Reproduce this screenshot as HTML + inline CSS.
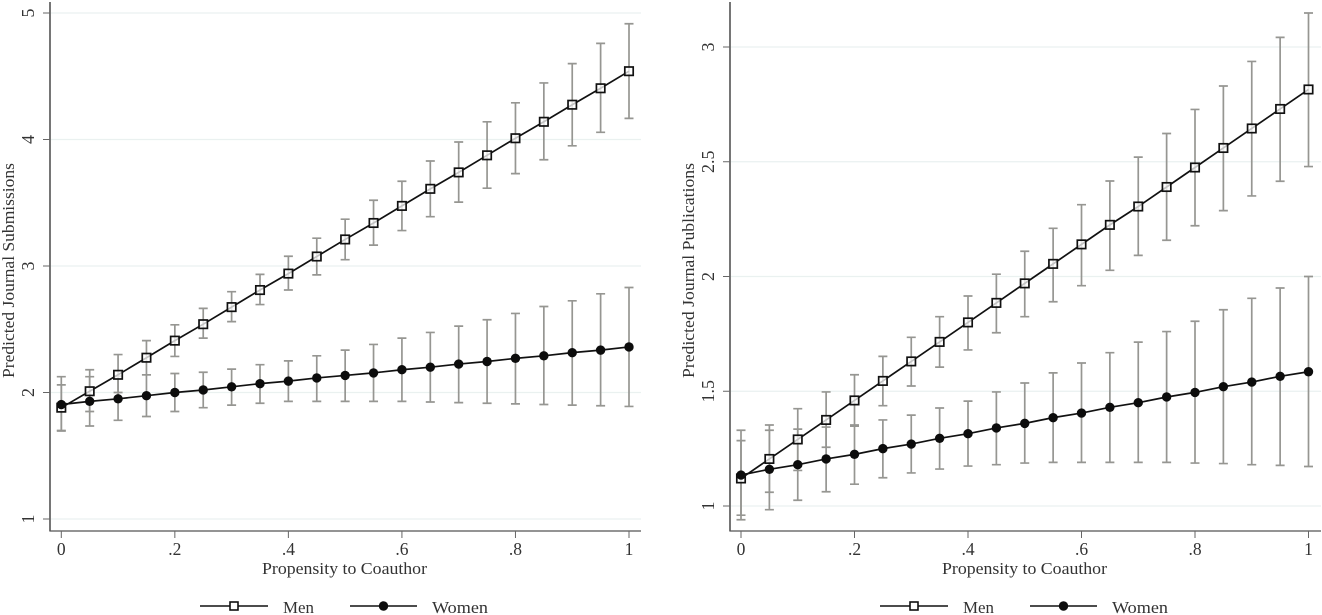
<!DOCTYPE html>
<html lang="en">
<head>
<meta charset="utf-8">
<title>Predicted Journal Submissions and Publications</title>
<style>
html,body{margin:0;padding:0;background:#fff;width:1322px;height:615px;overflow:hidden}
svg{display:block}
text{font-family:"Liberation Serif",serif;fill:#333}
</style>
</head>
<body>
<svg id="figure" width="1322" height="615" viewBox="0 0 1322 615" xmlns="http://www.w3.org/2000/svg"></svg>
<script>
const propensity = [0,.05,.1,.15,.2,.25,.3,.35,.4,.45,.5,.55,.6,.65,.7,.75,.8,.85,.9,.95,1];
const xTickValues = [0,.2,.4,.6,.8,1];
const xTickLabels = ['0','.2','.4','.6','.8','1'];

const subsTicks = [1,2,3,4,5];
const subsTickLabels = ['1','2','3','4','5'];
const subsMen = [1.88,2.01,2.14,2.275,2.41,2.54,2.675,2.81,2.94,3.075,3.21,3.34,3.475,3.61,3.74,3.875,4.01,4.14,4.275,4.405,4.54];
const subsMenUpper = [2.06,2.18,2.3,2.41,2.535,2.665,2.797,2.934,3.077,3.22,3.37,3.52,3.67,3.83,3.98,4.14,4.29,4.447,4.6,4.76,4.915];
const subsMenLower = [1.695,1.85,2.0,2.14,2.285,2.43,2.56,2.695,2.81,2.93,3.05,3.165,3.28,3.39,3.505,3.615,3.73,3.84,3.95,4.057,4.167];
const subsWomen = [1.905,1.93,1.95,1.975,2.0,2.02,2.045,2.07,2.09,2.115,2.135,2.155,2.18,2.2,2.225,2.245,2.27,2.29,2.315,2.335,2.36];
const subsWomenUpper = [2.125,2.125,2.13,2.14,2.15,2.16,2.185,2.22,2.25,2.29,2.335,2.38,2.43,2.475,2.525,2.575,2.625,2.68,2.725,2.78,2.83];
const subsWomenLower = [1.7,1.735,1.78,1.81,1.85,1.88,1.9,1.915,1.93,1.93,1.93,1.93,1.93,1.925,1.92,1.915,1.91,1.905,1.9,1.895,1.89];

const pubsTicks = [1,1.5,2,2.5,3];
const pubsTickLabels = ['1','1.5','2','2.5','3'];
const pubsMen = [1.12,1.205,1.29,1.375,1.46,1.545,1.63,1.715,1.8,1.885,1.97,2.055,2.14,2.225,2.305,2.39,2.475,2.56,2.645,2.73,2.815];
const pubsMenUpper = [1.285,1.33,1.424,1.497,1.572,1.652,1.735,1.825,1.915,2.01,2.11,2.21,2.313,2.416,2.52,2.623,2.728,2.83,2.937,3.042,3.148];
const pubsMenLower = [.96,1.06,1.155,1.256,1.353,1.437,1.523,1.605,1.68,1.755,1.825,1.89,1.96,2.027,2.092,2.158,2.221,2.287,2.351,2.415,2.479];
const pubsWomen = [1.135,1.16,1.18,1.205,1.225,1.25,1.27,1.295,1.315,1.34,1.36,1.385,1.405,1.43,1.45,1.475,1.495,1.52,1.54,1.565,1.585];
const pubsWomenUpper = [1.33,1.353,1.335,1.344,1.348,1.375,1.396,1.427,1.457,1.497,1.536,1.58,1.623,1.668,1.714,1.76,1.805,1.855,1.905,1.95,2.0];
const pubsWomenLower = [.94,.984,1.025,1.062,1.095,1.123,1.144,1.161,1.174,1.18,1.187,1.19,1.19,1.19,1.19,1.19,1.187,1.185,1.18,1.177,1.172];

const NS = 'http://www.w3.org/2000/svg';
const svg = document.getElementById('figure');

function mk(parent, tag, attrs, txt){
  const e = document.createElementNS(NS, tag);
  for (const k in attrs) e.setAttribute(k, attrs[k]);
  if (txt !== undefined) e.textContent = txt;
  parent.appendChild(e);
  return e;
}

function drawBars(g, xs, ys, up, lo, label){
  xs.forEach((v,i)=>{
    const bar = mk(g,'path',{
      d:`M${xs[i]-4.5} ${ys(up[i])}H${xs[i]+4.5}M${xs[i]} ${ys(up[i])}V${ys(lo[i])}M${xs[i]-4.5} ${ys(lo[i])}H${xs[i]+4.5}`,
      fill:'none',stroke:'#969692','stroke-width':1.7});
    
    
  });
}

function drawPanel(o){
  const g = mk(svg,'g',{});
  
  

  const xp = v => o.x0 + (o.x1 - o.x0) * v;
  const yp = v => o.yA + (o.yB - o.yA) * (v - o.vA) / (o.vB - o.vA);
  const xs = propensity.map(xp);

  o.ticks.forEach((t,i)=>{
    const grid = mk(g,'line',{x1:o.left+1,x2:o.left+591,y1:yp(t),y2:yp(t),stroke:'#eaf1f0','stroke-width':1.2});
    
    
    const tick = mk(g,'line',{x1:o.left-7,x2:o.left,y1:yp(t),y2:yp(t),stroke:'#666','stroke-width':1});
    
    
    const lbl = mk(g,'text',{x:o.left-16,y:yp(t),'font-size':18,'text-anchor':'middle',transform:`rotate(-90 ${o.left-16} ${yp(t)})`},o.tickLabels[i]);
    
    
  });

  const yAxis = mk(g,'line',{x1:o.left,x2:o.left,y1:2,y2:531.5,stroke:'#666','stroke-width':1.8});
  
  
  const xAxis = mk(g,'line',{x1:o.left,x2:o.left+591,y1:531,y2:531,stroke:'#555','stroke-width':1.2});
  
  

  xTickValues.forEach((t,i)=>{
    const tick = mk(g,'line',{x1:xp(t),x2:xp(t),y1:531,y2:538,stroke:'#666','stroke-width':1});
    
    
    const lbl = mk(g,'text',{x:xp(t),y:555,'font-size':17.5,'text-anchor':'middle'},xTickLabels[i]);
    
    
  });

  const xTitle = mk(g,'text',{x:o.left+212,y:574,'font-size':16.5,textLength:165,lengthAdjust:'spacingAndGlyphs'},'Propensity to Coauthor');
  
  
  const yTitle = mk(g,'text',{x:0,y:0,'font-size':16.5,textLength:o.titleLen,lengthAdjust:'spacingAndGlyphs',transform:`translate(${o.left-36} 378) rotate(-90)`},o.title);
  
  

  drawBars(g, xs, yp, o.menU, o.menL, 'men');
  drawBars(g, xs, yp, o.womenU, o.womenL, 'women');

  const menLine = mk(g,'polyline',{points:xs.map((x,i)=>x+','+yp(o.men[i])).join(' '),fill:'none',stroke:'#111','stroke-width':1.7});
  
  
  const womenLine = mk(g,'polyline',{points:xs.map((x,i)=>x+','+yp(o.women[i])).join(' '),fill:'none',stroke:'#111','stroke-width':1.7});
  
  

  xs.forEach((x,i)=>{
    const s = mk(g,'rect',{x:x-4.2,y:yp(o.men[i])-4.2,width:8.4,height:8.4,fill:'#fff','fill-opacity':.75,stroke:'#111','stroke-width':1.7});
    
    
  });
  xs.forEach((x,i)=>{
    const c = mk(g,'circle',{cx:x,cy:yp(o.women[i]),r:4.7,fill:'#0c0c0c'});
    
    
  });

  const L = o.left;
  const lg = mk(g,'g',{});
  
  
  const l1 = mk(lg,'line',{x1:L+150,x2:L+218,y1:606,y2:606,stroke:'#111','stroke-width':1.6});
  
  
  const r1 = mk(lg,'rect',{x:L+180,y:602,width:8,height:8,fill:'#fff',stroke:'#111','stroke-width':1.6});
  
  
  const t1 = mk(lg,'text',{x:L+233,y:613,'font-size':16.5,textLength:31,lengthAdjust:'spacingAndGlyphs'},'Men');
  
  
  const l2 = mk(lg,'line',{x1:L+300,x2:L+367,y1:606,y2:606,stroke:'#111','stroke-width':1.6});
  
  
  const c2 = mk(lg,'circle',{cx:L+333.5,cy:606,r:4.7,fill:'#0c0c0c'});
  
  
  const t2 = mk(lg,'text',{x:L+382,y:613,'font-size':16.5,textLength:56,lengthAdjust:'spacingAndGlyphs'},'Women');
  
  
}

drawPanel({name:'submissions-panel',left:50,x0:61.3,x1:629,yA:519,yB:13,vA:1,vB:5,
  ticks:subsTicks,tickLabels:subsTickLabels,title:'Predicted Journal Submissions',titleLen:215,
  men:subsMen,menU:subsMenUpper,menL:subsMenLower,women:subsWomen,womenU:subsWomenUpper,womenL:subsWomenLower});
drawPanel({name:'publications-panel',left:730,x0:741,x1:1308.5,yA:506,yB:47,vA:1,vB:3,
  ticks:pubsTicks,tickLabels:pubsTickLabels,title:'Predicted Journal Publications',titleLen:215,
  men:pubsMen,menU:pubsMenUpper,menL:pubsMenLower,women:pubsWomen,womenU:pubsWomenUpper,womenL:pubsWomenLower});
</script>
</body>
</html>
